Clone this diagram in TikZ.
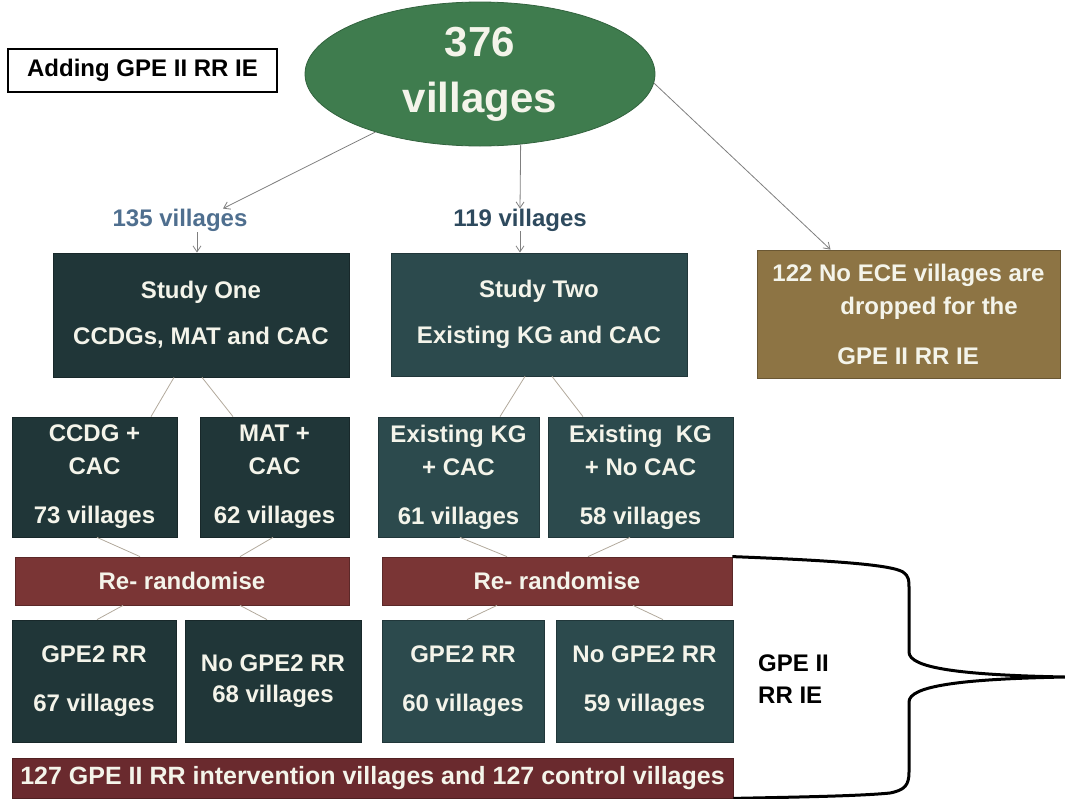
\documentclass[tikz,border=0pt]{standalone}
\usepackage{fontspec}
\setmainfont{Liberation Sans}
\usetikzlibrary{shapes.geometric,arrows.meta,calc}
\definecolor{dkA}{HTML}{203638}
\definecolor{dkB}{HTML}{2C4A4D}
\definecolor{brn}{HTML}{8D7444}
\definecolor{redb}{HTML}{7A3535}
\definecolor{barc}{HTML}{6A2A2E}
\definecolor{grn}{HTML}{3F7C4E}
\definecolor{txtc}{HTML}{F4F4EA}
\definecolor{arrc}{HTML}{7F7F7F}
\definecolor{linc}{HTML}{B2A99C}
\definecolor{blueA}{HTML}{4F6F8F}
\definecolor{blueB}{HTML}{2E4A5E}
\begin{document}
\begin{tikzpicture}[x=1pt,y=-1pt,
  box/.style={draw=#1!75!black, fill=#1, text=txtc, line width=0.8pt,
    font=\fontsize{24}{33}\selectfont\bfseries, align=center, inner sep=0pt},
  lbl/.style={font=\fontsize{24}{33}\selectfont\bfseries, inner sep=0pt},
  arr/.style={draw=arrc, line width=0.8pt, -{Straight Barb[length=6pt,width=8pt]}},
  thin/.style={draw=linc, line width=0.8pt}
]
\useasboundingbox (0,0) rectangle (1065,798);

% title box
\node[draw=black, fill=white, line width=1.5pt, minimum width=269pt, minimum height=43pt,
  inner sep=0pt, font=\fontsize{24}{30}\selectfont\bfseries] (add) at (142.5,70.5) {Adding GPE II RR IE};

% ellipse
\node[ellipse, fill=grn, draw=grn!80!black, line width=0.8pt, minimum width=350pt, minimum height=144pt,
  inner sep=0pt, text=txtc, align=center, font=\fontsize{42}{56}\selectfont\bfseries] (ell) at (480,74) {376\\villages};

% labels
\node[lbl, text=blueA] (l135) at (180,220) {135 villages};
\node[lbl, text=blueB] (l119) at (520,220) {119 villages};

% studies
\node[box=dkA, minimum width=296pt, minimum height=124pt] (s1) at (201,315) {Study One\\[13pt]CCDGs, MAT and CAC};
\node[box=dkB, minimum width=296pt, minimum height=123pt] (s2) at (539,314.5) {Study Two\\[13pt]Existing KG and CAC};
\node[box=brn, minimum width=303pt, minimum height=128pt, align=left] (drop) at (908.5,314)
  {122 No ECE villages are\\\hspace*{68pt}dropped for the\\[17pt]\hspace*{65pt}GPE II RR IE};

% level 2
\node[box=dkA, minimum width=165pt, minimum height=120pt] (ccdg) at (94.5,477) {CCDG +\\CAC\\[16pt]73 villages};
\node[box=dkA, minimum width=149pt, minimum height=120pt] (mat) at (274.5,477) {MAT +\\CAC\\[16pt]62 villages};
\node[box=dkB, minimum width=161pt, minimum height=120pt] (kg1) at (458.5,477) {Existing KG\\+ CAC\\[16pt]61 villages};
\node[box=dkB, minimum width=185pt, minimum height=120pt] (kg2) at (640.5,477) {Existing\ \ KG\\+ No CAC\\[16pt]58 villages};

% re-randomise
\node[box=redb, minimum width=334pt, minimum height=48pt] (rr1) at (182,581) {Re- randomise};
\node[box=redb, minimum width=350pt, minimum height=48pt] (rr2) at (557,581) {Re- randomise};

% level 3
\node[box=dkA, minimum width=164pt, minimum height=122pt] (g1) at (94,681) {GPE2 RR\\[16pt]67 villages};
\node[box=dkA, minimum width=176pt, minimum height=122pt] (ng1) at (273,681) {No GPE2 RR\\[-2pt]68 villages};
\node[box=dkB, minimum width=162pt, minimum height=122pt] (g2) at (463,681) {GPE2 RR\\[16pt]60 villages};
\node[box=dkB, minimum width=177pt, minimum height=122pt] (ng2) at (644.5,681) {No GPE2 RR\\[16pt]59 villages};

% bottom bar
\node[box=barc, minimum width=721pt, minimum height=40pt, font=\fontsize{25}{30}\selectfont\bfseries] (bar) at (372.5,778)
  {127 GPE II RR intervention villages and 127 control villages};

% side label
\node[lbl, anchor=west, align=left, font=\fontsize{24}{32}\selectfont\bfseries] (gpe) at (758,679) {GPE II\\RR IE};

% arrows
\draw[arr] (ell.209) -- ($(l135.north)+(43,0)$);
\draw[arr] ($(l135.south)+(17,1)$) -- ($(s1.north)+(-4,0)$);
\draw[arr] (ell.-60) -- (l119.north);
\draw[arr] (l119.south) -- (l119.south |- s2.north);
\draw[arr] (ell.-3) -- ($(drop.north)+(-78,0)$);

% thin connectors
\draw[thin] ($(s1.south)+(-27,0)$) -- ($(ccdg.north)+(56.5,0)$);
\draw[thin] ($(s1.south)+(1,0)$) -- ($(mat.north)+(-41.5,0)$);
\draw[thin] ($(s2.south)+(-14,0)$) -- ($(kg1.north)+(41.5,0)$);
\draw[thin] ($(s2.south)+(13,0)$) -- ($(kg2.north)+(-57.5,0)$);
\draw[thin] ($(ccdg.south)+(2.5,0)$) -- ($(rr1.north)+(-42,0)$);
\draw[thin] ($(mat.south)+(-1.5,0)$) -- ($(rr1.north)+(58,0)$);
\draw[thin] ($(kg1.south)+(1.5,0)$) -- ($(rr2.north)+(-50,0)$);
\draw[thin] ($(kg2.south)+(-10.5,0)$) -- ($(rr2.north)+(31,0)$);
\draw[thin] ($(rr1.south)+(-59,0)$) -- ($(g1.north)+(3,0)$);
\draw[thin] ($(rr1.south)+(58,0)$) -- ($(ng1.north)+(-6,0)$);
\draw[thin] ($(rr2.south)+(-60,0)$) -- ($(g2.north)+(4,0)$);
\draw[thin] ($(rr2.south)+(76,0)$) -- ($(ng2.north)+(18.5,0)$);

% brace
\draw[black, line width=3pt, line join=round]
  (rr2.north east) .. controls (820,560) and (890,564) .. (903,572)
  .. controls (909,576) and (909,580) .. (909,590) -- (909,652)
  .. controls (909,668) and (960,675) .. (1065,677)
  .. controls (960,679) and (909,686) .. (909,702) -- (909,772)
  .. controls (909,785) and (905,790) .. (890,793)
  .. controls (860,796) and (800,797) .. (bar.south east);
\end{tikzpicture}
\end{document}
